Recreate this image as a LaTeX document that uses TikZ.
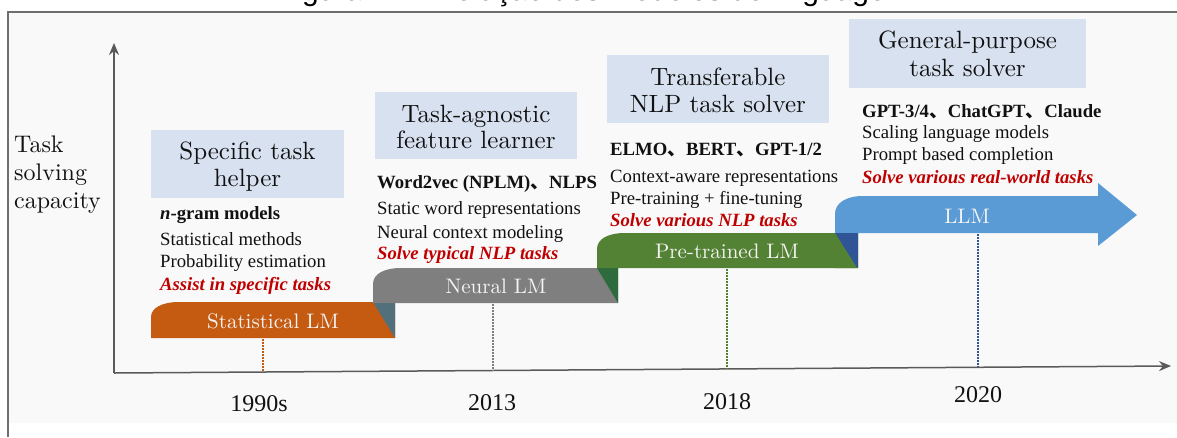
\documentclass[tikz,border=0pt]{standalone}
\usepackage{fontspec}
\newfontfamily\lmten[Extension=.otf]{lmroman10-regular}
\newfontfamily\timesfont{Liberation Serif}
\newfontfamily\arialfont{Liberation Sans}
\newfontfamily\cjk{Noto Sans CJK SC}
\usetikzlibrary{arrows.meta}

\definecolor{panelbg}{HTML}{F9F9F9}
\definecolor{frameline}{HTML}{6E6E6E}
\definecolor{headfill}{HTML}{D7E1F0}
\definecolor{statorange}{HTML}{C55A11}
\definecolor{statfold}{HTML}{52707C}
\definecolor{neuralgray}{HTML}{7F7F7F}
\definecolor{neuralfold}{HTML}{2D6A3C}
\definecolor{ptgreen}{HTML}{548235}
\definecolor{ptfold}{HTML}{2F5597}
\definecolor{llmblue}{HTML}{5B9BD5}
\definecolor{accentred}{HTML}{C00000}
\definecolor{axisgray}{HTML}{5A5A5A}
\definecolor{inktext}{HTML}{111111}
\definecolor{bandtext}{HTML}{F4F4F4}

\newcommand{\cjkcomma}{{\cjk 、}}

\begin{document}
\begin{tikzpicture}[x=1pt,y=-1pt,
  axis/.style={axisgray, line width=1.5pt, -{Stealth[length=12pt,width=10pt]}},
  tickline/.style={line width=1.2pt, dash pattern=on 1.5pt off 1.5pt},
  headbox/.style={fill=headfill, draw=none, inner sep=0pt},
  headtext/.style={anchor=base, inner sep=0pt, text=inktext,
    font=\lmten\fontsize{25}{27}\selectfont},
  bandtext/.style={anchor=base, inner sep=0pt, text=bandtext,
    font=\lmten\fontsize{21}{21}\selectfont},
  desc/.style={anchor=base west, inner sep=0pt, text=inktext,
    font=\timesfont\fontsize{18.7}{22}\selectfont},
  keyline/.style={desc, font=\timesfont\bfseries\fontsize{18.7}{22}\selectfont},
  goal/.style={desc, text=accentred,
    font=\timesfont\bfseries\itshape\fontsize{18.7}{22}\selectfont},
  yeartext/.style={anchor=base, inner sep=0pt, text=inktext,
    font=\timesfont\fontsize{24}{24}\selectfont},
  ylabel/.style={anchor=base west, inner sep=0pt, text=inktext,
    font=\lmten\fontsize{24}{24}\selectfont}]

\useasboundingbox (0,0) rectangle (1177,437);
\fill[white] (0,0) rectangle (1177,437);

% caption line above the panel
\begin{scope}
  \clip (0,0) rectangle (1177,12);
  \node[anchor=base west, inner sep=0pt, font=\arialfont\fontsize{30}{30}\selectfont]
    (caption) at (277,0.5) {Figura 1 – Evolução dos modelos de linguagem};
\end{scope}

% panel
\fill[panelbg] (9,13) rectangle (1177,423);
\draw[frameline, line width=2pt] (8,437) -- (8,12) -- (1177,12);

% axes
\coordinate (origin) at (114,373);
\coordinate (ytop) at (114,43);
\coordinate (xend) at (1171,366);
\draw[axis] (origin) -- (ytop);
\draw[axis] (origin) -- (xend);

\node[ylabel] (yl1) at (14,152) {Task};
\node[ylabel] (yl2) at (14,180) {solving};
\node[ylabel] (yl3) at (14,208) {capacity};

% dotted year markers
\coordinate (m1top) at (263,339);  \coordinate (m1bot) at (263,372);
\coordinate (m2top) at (493,304);  \coordinate (m2bot) at (493,370.5);
\coordinate (m3top) at (727,269);  \coordinate (m3bot) at (727,369);
\coordinate (m4top) at (978,234);  \coordinate (m4bot) at (978,367.3);
\draw[tickline, statorange] (m1top) -- (m1bot);
\draw[tickline, neuralgray] (m2top) -- (m2bot);
\draw[tickline, ptgreen] (m3top) -- (m3bot);
\draw[tickline, ptfold] (m4top) -- (m4bot);

\node[yeartext] (y1990) at (259,411.5) {1990s};
\node[yeartext] (y2013) at (492,410.5) {2013};
\node[yeartext] (y2018) at (727,409.5) {2018};
\node[yeartext] (y2020) at (978,402.5) {2020};

% stepped bands
\fill[statorange] (151,338) -- (151,317) .. controls (151,308) and (162,302) .. (179,302)
  -- (395,302) -- (395,338) -- cycle;
\fill[statfold] (373,302) -- (395,302) -- (395,338) -- cycle;

\fill[neuralgray] (373,303) -- (373,284) .. controls (373,274) and (384,268) .. (401,268)
  -- (618,268) -- (618,303) -- cycle;
\fill[neuralfold] (597,268) -- (618,268) -- (618,303) -- cycle;

\fill[ptgreen] (597,268) -- (597,249) .. controls (597,239) and (608,233) .. (625,233)
  -- (858,233) -- (858,268) -- cycle;
\fill[ptfold] (836,233) -- (858,233) -- (858,268) -- cycle;

\fill[llmblue] (835,233) -- (835,214) .. controls (835,203) and (846,196) .. (863,196)
  -- (1098,196) -- (1098,183) -- (1137,215) -- (1098,246) -- (1098,233) -- cycle;
\fill[ptfold] (835,233) -- (857,233) -- (857,268) -- cycle;
\fill[ptgreen] (835,233) -- (857,268) -- (835,268) -- cycle;

\node[bandtext] (b1) at (273,328) {Statistical LM};
\node[bandtext] (b2) at (496,293) {Neural LM};
\node[bandtext] (b3) at (727,258) {Pre-trained LM};
\node[bandtext] (b4) at (967,223) {LLM};

% stage headings
\node[headbox, minimum width=193pt, minimum height=68pt] (h1) at (247.5,164) {};
\node[headtext] (h1a) at (247.5,159) {Specific task};
\node[headtext] (h1b) at (247.5,186) {helper};

\node[headbox, minimum width=202pt, minimum height=67pt] (h2) at (476,125.5) {};
\node[headtext] (h2a) at (476,122) {Task-agnostic};
\node[headtext] (h2b) at (476,148) {feature learner};

\node[headbox, minimum width=222pt, minimum height=68pt] (h3) at (718,89) {};
\node[headtext] (h3a) at (718,85) {Transferable};
\node[headtext] (h3b) at (718,112) {NLP task solver};

\node[headbox, minimum width=237pt, minimum height=69pt] (h4) at (967.5,53.5) {};
\node[headtext] (h4a) at (967.5,48) {General-purpose};
\node[headtext] (h4b) at (967.5,76) {task solver};

% stage descriptions
\node[keyline] (d1a) at (160,219) {\textit{n}-gram models};
\node[desc]    (d1b) at (160,245) {Statistical methods};
\node[desc]    (d1c) at (160,267) {Probability estimation};
\node[goal]    (d1d) at (160,290) {Assist in specific tasks};

\node[keyline] (d2a) at (377,188) {Word2vec (NPLM)\cjkcomma NLPS};
\node[desc]    (d2b) at (377,214) {Static word representations};
\node[desc]    (d2c) at (377,238) {Neural context modeling};
\node[goal]    (d2d) at (377,259) {Solve typical NLP tasks};

\node[keyline] (d3a) at (610,155) {ELMO\cjkcomma BERT\cjkcomma GPT-1/2};
\node[desc]    (d3b) at (610,182) {Context-aware representations};
\node[desc]    (d3c) at (610,204) {Pre-training + fine-tuning};
\node[goal]    (d3d) at (610,226) {Solve various NLP tasks};

\node[keyline] (d4a) at (862,117) {GPT-3/4\cjkcomma ChatGPT\cjkcomma Claude};
\node[desc]    (d4b) at (862,138) {Scaling language models};
\node[desc]    (d4c) at (862,160) {Prompt based completion};
\node[goal]    (d4d) at (862,183) {Solve various real-world tasks};

\end{tikzpicture}
\end{document}
